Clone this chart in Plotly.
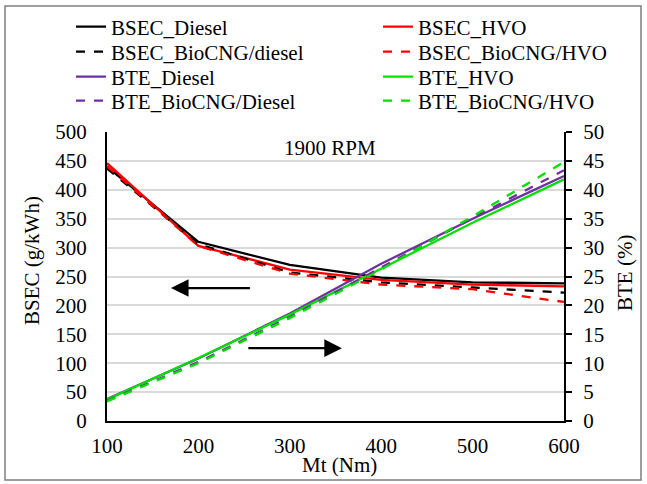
import plotly.graph_objects as go

torque = [100, 200, 300, 400, 500, 600]
bsec_diesel = [440, 310, 270, 248, 240, 238]
bsec_hvo = [446, 303, 262, 244, 236, 233]
bsec_biocng_diesel = [437, 306, 257, 240, 231, 222]
bsec_biocng_hvo = [441, 303, 255, 236, 228, 206]
bte_diesel = [3.8, 10.8, 18.6, 27.2, 35.0, 42.4]
bte_hvo = [3.7, 10.9, 18.4, 26.4, 34.3, 41.8]
bte_biocng_diesel = [3.5, 10.2, 18.0, 26.6, 35.1, 43.4]
bte_biocng_hvo = [3.4, 10.0, 17.8, 26.2, 35.4, 44.8]

FONT = "Liberation Serif"
F = dict(family=FONT, size=21, color="black")
W, H = 647, 484
L, R, T, B = 107, 83, 132, 63
PW, PH = W - L - R, H - T - B

def px(xp):
    return (xp - L) / PW

def py(yp):
    return (H - B - yp) / PH

fig = go.Figure()

# (name, values, color, dash, axis, legend column px, legend row px)
series = [
    ("BSEC_Diesel", bsec_diesel, "black", "solid", "y", 71, 27),
    ("BSEC_HVO", bsec_hvo, "#ff0000", "solid", "y", 378, 27),
    ("BSEC_BioCNG/diesel", bsec_biocng_diesel, "black", "dash", "y", 71, 52),
    ("BSEC_BioCNG/HVO", bsec_biocng_hvo, "#ff0000", "dash", "y", 378, 52),
    ("BTE_Diesel", bte_diesel, "#7030a0", "solid", "y2", 71, 77),
    ("BTE_HVO", bte_hvo, "#00e000", "solid", "y2", 378, 77),
    ("BTE_BioCNG/Diesel", bte_biocng_diesel, "#7030a0", "dash", "y2", 71, 101),
    ("BTE_BioCNG/HVO", bte_biocng_hvo, "#00e000", "dash", "y2", 378, 101),
]

legends = {}
for i, (name, vals, color, dash, axis, lx, ly) in enumerate(series):
    key = "legend" if i == 0 else f"legend{i + 1}"
    fig.add_trace(go.Scatter(x=torque, y=vals, name=name, mode="lines",
                             line=dict(color=color, dash=dash, width=2.3),
                             yaxis=axis, legend=key))
    legends[key] = dict(orientation="v", xref="container", yref="container",
                        x=lx / W, y=1 - ly / H, xanchor="left", yanchor="middle",
                        font=F, bgcolor="rgba(0,0,0,0)")

def label(text, xp, yp, angle=0):
    return dict(text=text, x=px(xp), y=py(yp), xref="paper", yref="paper",
                xanchor="center", yanchor="middle", textangle=angle,
                showarrow=False, font=F)

fig.update_layout(
    width=W, height=H,
    margin=dict(l=L, r=R, t=T, b=B, autoexpand=False),
    paper_bgcolor="white", plot_bgcolor="white",
    font=F,
    showlegend=True,
    xaxis=dict(range=[100, 600], tickvals=[100, 200, 300, 400, 500, 600],
               showline=True, linecolor="black", linewidth=2, showgrid=False,
               ticks="", zeroline=False, ticklabelstandoff=5, tickfont=F),
    yaxis=dict(range=[0, 500], dtick=50, showline=True, linecolor="black", linewidth=2,
               showgrid=True, gridcolor="#d9d9d9", gridwidth=2, zeroline=False, ticks="",
               ticklabelstandoff=14, tickfont=F),
    yaxis2=dict(range=[0, 50], dtick=5, overlaying="y", side="right",
                showline=True, linecolor="black", linewidth=2, showgrid=False,
                zeroline=False, ticks="outside", ticklen=6, tickwidth=2, tickcolor="black",
                ticklabelstandoff=7, tickfont=F),
    annotations=[
        label("BSEC (g/kWh)", 32, 261, -90),
        label("BTE (%)", 625, 273, -90),
        label("Mt (Nm)", 339, 465),
        label("1900 RPM", 330, 148),
        dict(x=170, y=230, ax=258, ay=230, xref="x", yref="y", axref="x", ayref="y",
             showarrow=True, arrowhead=2, arrowsize=1.6, arrowwidth=2.2, arrowcolor="black", text=""),
        dict(x=357, y=126, ax=253, ay=126, xref="x", yref="y", axref="x", ayref="y",
             showarrow=True, arrowhead=2, arrowsize=1.6, arrowwidth=2.2, arrowcolor="black", text=""),
    ],
    shapes=[dict(type="rect", xref="paper", yref="paper",
                 x0=px(5), x1=px(641), y0=py(480), y1=py(6),
                 line=dict(color="#7f7f7f", width=1.5))],
    **legends,
)

fig.write_html("out.html")
